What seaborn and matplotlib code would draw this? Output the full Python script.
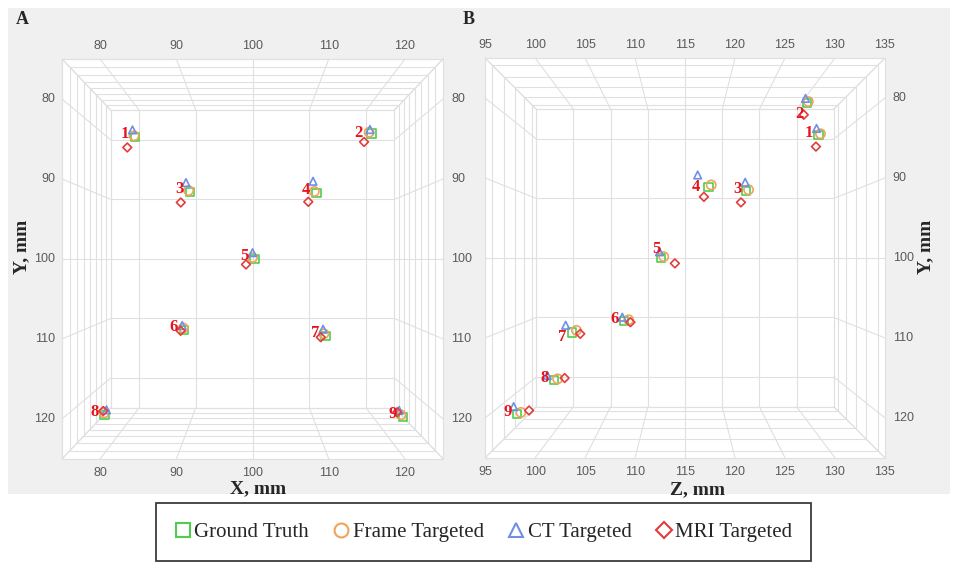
import numpy as np
import pandas as pd
import seaborn as sns
import matplotlib
matplotlib.use("Agg")
import matplotlib.pyplot as plt
from matplotlib.lines import Line2D
from matplotlib.patches import Rectangle
from matplotlib.transforms import offset_copy
from mpl_toolkits.mplot3d.art3d import Poly3DCollection

# ---------------- data (mm) ----------------
point_ids = [1, 2, 3, 4, 5, 6, 7, 8, 9]

gt_x = [79.6, 120.0, 89.8, 110.0, 100.3, 90.0, 110.2, 80.1, 120.2]
gt_y = [79.8, 79.9, 89.6, 90.2, 100.0, 109.8, 110.3, 120.0, 120.2]
gt_z = [132.5, 127.6, 122.6, 117.6, 112.2, 107.4, 102.5, 97.8, 97.6]

frame_x = [79.4, 119.6, 89.6, 109.7, 100.0, 89.9, 110.0, 80.0, 120.0]
frame_y = [79.6, 79.7, 89.4, 89.9, 99.8, 109.6, 110.0, 119.8, 120.0]
frame_z = [132.8, 127.8, 122.9, 117.9, 112.5, 108.0, 103.0, 98.3, 98.0]

ct_x = [79.2, 119.7, 89.2, 109.4, 100.0, 89.8, 109.8, 80.5, 119.6]
ct_y = [78.7, 79.3, 88.2, 88.5, 99.1, 109.2, 109.3, 119.2, 119.3]
ct_z = [132.3, 127.5, 122.5, 116.4, 112.0, 107.2, 101.8, 97.0, 97.2]

mri_x = [78.3, 118.7, 88.4, 108.7, 99.0, 89.5, 109.6, 79.7, 119.6]
mri_y = [81.6, 81.3, 91.3, 91.5, 100.8, 110.0, 110.5, 119.7, 119.8]
mri_z = [132.3, 127.4, 122.0, 117.1, 113.8, 108.2, 103.4, 99.2, 98.8]

series_names = ["Ground Truth", "Frame Targeted", "CT Targeted", "MRI Targeted"]

x_ticks = [80, 90, 100, 110, 120]
y_ticks = [80, 90, 100, 110, 120]
z_ticks = [95, 100, 105, 110, 115, 120, 125, 130, 135]
x_lim = (75, 125)
y_lim = (75, 125)
z_lim = (95, 135)

# ---------------- tidy table ----------------
frames = []
for name, xs, ys, zs in zip(series_names,
                            [gt_x, frame_x, ct_x, mri_x],
                            [gt_y, frame_y, ct_y, mri_y],
                            [gt_z, frame_z, ct_z, mri_z]):
    frames.append(pd.DataFrame({"series": name, "point": point_ids,
                                "X": xs, "Y": ys, "Z": zs}))
df = pd.concat(frames, ignore_index=True)

# ---------------- style ----------------
sns.set_theme(style="white")
plt.rcParams["font.family"] = ["Liberation Serif", "DejaVu Serif"]
palette = sns.color_palette(["#4fcd4f", "#f0a35a", "#6f8fe8", "#e33c3c"])
markers = {"Ground Truth": ("s", 36), "Frame Targeted": ("o", 44),
           "CT Targeted": ("^", 30), "MRI Targeted": ("D", 20)}
colors = dict(zip(series_names, palette))
GRID = "#e0e0e0"
TICK_COLOR = "#5a5a5a"

W, H = 957, 576
fig = plt.figure(figsize=(W / 100, H / 100), dpi=100)
fig.patch.set_facecolor("white")


def fx(px):
    return px / W


def fy(py):
    return 1 - py / H


fig.patches.append(Rectangle((fx(8), fy(494)), fx(950) - fx(8), fy(8) - fy(494),
                             transform=fig.transFigure, facecolor="#f0f0f0",
                             edgecolor="none", zorder=-10))


def project(ax, x, y, z):
    """Project a 3D data point with the axes' own projection matrix."""
    v = ax.get_proj() @ np.array([x, y, z, 1.0])
    return v[0] / v[3], v[1] / v[3]


def label2d(ax, x, y, z, s, dx, dy, **kw):
    px, py = project(ax, x, y, z)
    tr = offset_copy(ax.transData, fig=fig, x=dx, y=dy, units="dots")
    ax.text2D(px, py, s, transform=tr, **kw)


def draw_panel(left, top, size, hcol, dcol, h_lim, d_near_far, h_ticks, d_ticks,
               box_aspect, zoom, focal, lab_off, default_off, show_left, show_right):
    ax = fig.add_axes([left / W, 1 - (top + size) / H, size / W, size / H],
                      projection="3d", computed_zorder=False)
    ax.set_proj_type("persp", focal_length=focal)
    ax.view_init(elev=0, azim=-90, roll=0)
    ax.set_box_aspect(box_aspect, zoom=zoom)
    ax.set_xlim(*h_lim)
    ax.set_ylim(*d_near_far)
    ax.set_zlim(y_lim[1], y_lim[0])
    ax.set_axis_off()
    ax.patch.set_alpha(0)

    hmin, hmax = h_lim
    near, far = d_near_far
    vtop, vbot = y_lim
    h_lines = sorted(set([hmin, hmax] + list(h_ticks)))
    d_lines = sorted(set(list(d_near_far) + list(d_ticks)))
    v_lines = sorted(set([vtop, vbot] + list(y_ticks)))

    # white near face (inside of the box)
    face = Poly3DCollection([[(hmin, near, vtop), (hmax, near, vtop),
                              (hmax, near, vbot), (hmin, near, vbot)]],
                            facecolor="white", edgecolor=GRID, linewidths=0.8)
    face.set_zorder(0)
    ax.add_collection3d(face)

    kw = dict(color=GRID, lw=0.8, zorder=1)
    # back face
    for h in h_lines:
        ax.plot([h, h], [far, far], [vbot, vtop], **kw)
    for v in v_lines:
        ax.plot([hmin, hmax], [far, far], [v, v], **kw)
    # top & bottom walls
    for v in (vtop, vbot):
        for h in h_lines:
            ax.plot([h, h], [near, far], [v, v], **kw)
        for d in d_lines:
            ax.plot([hmin, hmax], [d, d], [v, v], **kw)
    # left & right walls
    for h in (hmin, hmax):
        for v in v_lines:
            ax.plot([h, h], [near, far], [v, v], **kw)
        for d in d_lines:
            ax.plot([h, h], [d, d], [vbot, vtop], **kw)

    # tick labels on near face
    tk = dict(family="Liberation Sans", fontsize=9, color=TICK_COLOR, zorder=5)
    for h in h_ticks:
        label2d(ax, h, near, vtop, f"{h}", 0, 13, ha="center", va="center", **tk)
        label2d(ax, h, near, vbot, f"{h}", 0, -14, ha="center", va="center", **tk)
    if show_left:
        for v in y_ticks:
            label2d(ax, hmin, near, v, f"{v}", -7, 0, ha="right", va="center", **tk)
    if show_right:
        for v in y_ticks:
            label2d(ax, hmax, near, v, f"{v}", 8, 0, ha="left", va="center", **tk)

    # markers
    for name in series_names:
        sub = df[df["series"] == name]
        m, s = markers[name]
        ax.scatter(sub[hcol], sub[dcol], sub["Y"], marker=m, s=s,
                   facecolors="none", edgecolors=[colors[name]], linewidths=1.2,
                   depthshade=False, zorder=3)

    # point numbers
    gt = df[df["series"] == "Ground Truth"]
    for _, r in gt.iterrows():
        dx, dy = lab_off.get(int(r["point"]), default_off)
        label2d(ax, r[hcol], r[dcol], r["Y"], f"{int(r['point'])}", dx, dy,
                ha="right", va="center", color="#e8141c", fontsize=12,
                fontweight="bold", zorder=6)
    return ax


# Panel A : X horizontal, looking along +Z
axA = draw_panel(11.2, 30.3, 470, "X", "Z", x_lim, (95, 135), x_ticks, z_ticks,
                 (0.953, 1, 1), 1.202, 0.459, {2: (-9, 0)}, (-6, 3), True, True)
# Panel B : Z horizontal, looking along -X
axB = draw_panel(443.7, 29.3, 470, "Z", "X", z_lim, (125, 75), z_ticks, x_ticks,
                 (1, 1, 1), 1.22, 0.459,
                 {2: (-3, -11), 5: (-1, 9), 4: (-9, 0), 7: (-5, -4)}, (-5, 2),
                 False, True)

# axis titles & panel letters
lab = dict(fontsize=14, fontweight="bold", family="Liberation Serif")
fig.text(fx(258), fy(489), "X, mm", ha="center", va="center", **lab)
fig.text(fx(698), fy(490), "Z, mm", ha="center", va="center", **lab)
fig.text(fx(22), fy(247), "Y, mm", ha="center", va="center", rotation=90, **lab)
fig.text(fx(926), fy(247), "Y, mm", ha="center", va="center", rotation=90, **lab)
fig.text(fx(22), fy(19), "A", ha="center", va="center", fontsize=13,
         fontweight="bold", family="Liberation Serif")
fig.text(fx(469), fy(19), "B", ha="center", va="center", fontsize=13,
         fontweight="bold", family="Liberation Serif")

# legend
handles = [Line2D([0], [0], marker=markers[n][0], ls="none", mfc="none",
                  mec=colors[n], mew=1.5, ms=10 if n != "MRI Targeted" else 8.5)
           for n in series_names]
leg = fig.legend(handles, series_names, loc="center",
                 bbox_to_anchor=(fx(483.5), fy(532)), ncol=4, frameon=True,
                 fancybox=False, edgecolor="#3c3c3c", facecolor="white",
                 framealpha=1, prop=dict(family="Liberation Serif", size=15),
                 handlelength=0.8, handletextpad=0.15, columnspacing=1.15,
                 borderpad=0.9)
leg.get_frame().set_linewidth(1.3)

fig.savefig("out.png", dpi=100, facecolor="white")
